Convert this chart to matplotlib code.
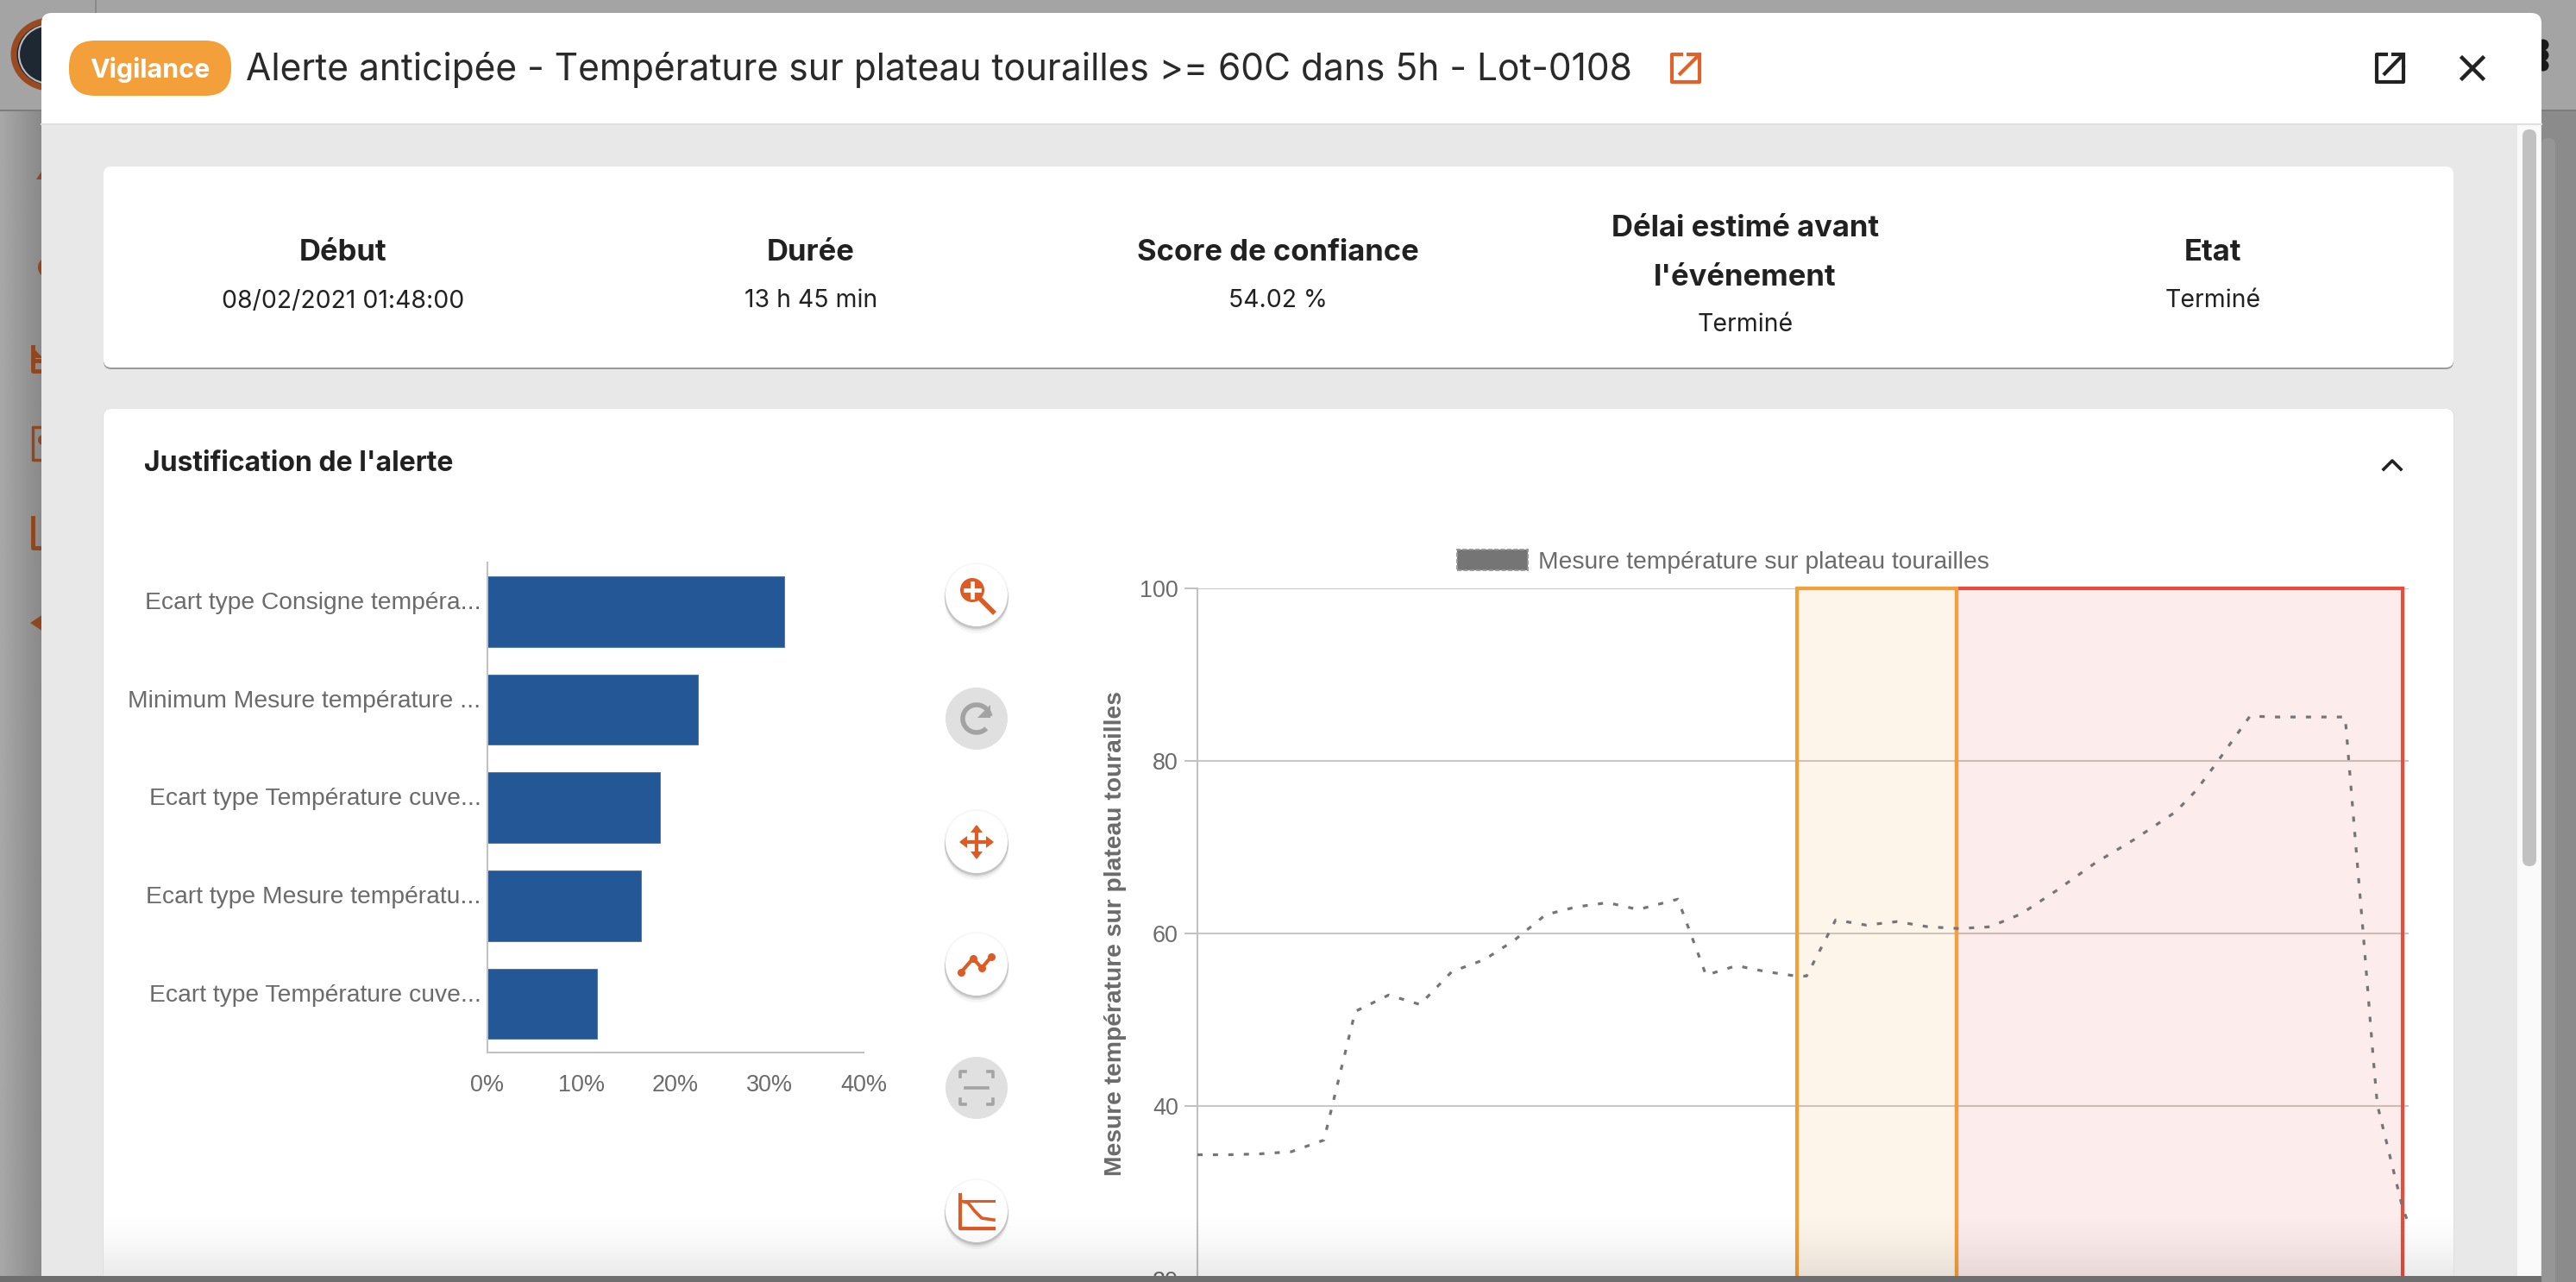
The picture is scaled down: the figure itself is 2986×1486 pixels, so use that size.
import numpy as np
import matplotlib
matplotlib.use("Agg")
import matplotlib.pyplot as plt
from matplotlib.patches import FancyBboxPatch, Circle, Rectangle, Polygon, Ellipse, Patch, Arc
from matplotlib.transforms import Affine2D

# ---------- data ----------
bar_labels = ["Ecart type Consigne tempéra...", "Minimum Mesure température ...",
              "Ecart type Température cuve...", "Ecart type Mesure températu...",
              "Ecart type Température cuve..."]
bar_values = [31.6, 22.4, 18.4, 16.4, 11.7]
bar_ticks = [0, 10, 20, 30, 40]

hours = [-13.60, -12.90, -12.19, -11.47, -10.73, -10.02, -9.26, -8.55, -7.83, -7.09,
         -6.42, -5.70, -5.01, -4.29, -3.60, -2.70, -2.06, -1.37, -0.69, -0.02,
         0.22, 0.88, 1.57, 2.27, 2.98, 3.68, 4.38, 5.09, 5.89, 6.77,
         7.65, 8.59, 9.06, 9.51, 10.28, 10.90, 11.69, 12.44, 12.68, 12.85,
         13.08, 13.17, 13.74, 13.88]
temperature = [34.4, 34.4, 34.5, 34.75, 36.1, 51.0, 52.9, 51.8, 55.6, 57.0,
               59.2, 62.2, 63.1, 63.6, 62.8, 64.0, 55.2, 56.3, 55.6, 55.1,
               55.1, 61.6, 61.0, 61.4, 60.8, 60.6, 60.8, 62.3, 65.0, 68.2,
               70.9, 74.1, 76.6, 79.7, 85.2, 85.1, 85.1, 85.1, 70.3, 60.0,
               45.4, 40.2, 28.3, 26.4]
zone_vigilance = (0.0, 3.62)
zone_alert = (3.62, 13.75)
y_ticks = [20, 40, 60, 80, 100]
legend_label = "Mesure température sur plateau tourailles"
title = "Alerte anticipée - Température sur plateau tourailles >= 60C dans 5h - Lot-0108"
info_heads = ["Début", "Durée", "Score de confiance", "Délai estimé avant\nl'événement", "Etat"]
info_values = ["08/02/2021 01:48:00", "13 h 45 min", "54.02 %", "Terminé", "Terminé"]

# ---------- layout ----------
W, H = 2986, 1486
plt.rcParams["lines.scale_dashes"] = False
fig = plt.figure(figsize=(W / 100, H / 100), dpi=100, facecolor="#a3a3a3")
PT = 0.72
UI = "Inter"
CH = "Liberation Sans"
HEAD = 34.6 * PT
VAL = 28.4 * PT


def px_axes(x0, y0, x1, y1, **kw):
    return fig.add_axes([x0 / W, 1 - y1 / H, (x1 - x0) / W, (y1 - y0) / H], **kw)


bg = px_axes(0, 0, W, H, zorder=0)
bg.set_xlim(0, W); bg.set_ylim(H, 0); bg.axis("off")


def rrect(ax, x0, y0, x1, y1, r, fc, z=1, ec="none"):
    p = FancyBboxPatch((x0 + r, y0 + r), x1 - x0 - 2 * r, y1 - y0 - 2 * r,
                       boxstyle=f"round,pad={r},rounding_size={r}", fc=fc, ec=ec, lw=0, zorder=z)
    ax.add_patch(p)
    return p


# page behind modal
grad = np.linspace(0.66, 0.54, 64).reshape(1, -1)
bg.imshow(grad, extent=(0, 48, H, 128), cmap="gray", vmin=0, vmax=1, aspect="auto", zorder=0)
bg.add_patch(Rectangle((0, 0), W, 128, fc="#a4a4a4", ec="none", zorder=0))
bg.add_patch(Rectangle((2946, 128), 40, H, fc="#8b8b8b", ec="none", zorder=0))
rrect(bg, 2946, 160, 2962, H + 20, 8, "#969696", z=0.5)
bg.plot([0, W], [128, 128], color="#7c7c7c", lw=1.4, zorder=0.6)
bg.plot([111, 111], [0, 128], color="#8a8a8a", lw=1.4, zorder=0.6)
bg.add_patch(Ellipse((58, 63), 84, 78, fc="#1e2833", ec="#9a4a1e", lw=5, zorder=0.7))
bg.add_patch(Ellipse((58, 63), 72, 68, fc="none", ec="#b9bdc0", lw=1.5, zorder=0.7))
BR = "#8f4720"
bg.add_patch(Polygon([(42, 208), (50, 196), (50, 208)], fc=BR, zorder=0.7))
bg.add_patch(Circle((56, 310), 12, fc=BR, zorder=0.7))
bg.plot([38, 38, 50], [402, 430, 430], color=BR, lw=3.5, zorder=0.7)
bg.plot([38, 50], [418, 418], color=BR, lw=3.5, zorder=0.7)
bg.add_patch(Polygon([(37, 402), (50, 415), (37, 415)], fc=BR, zorder=0.7))
bg.plot([46, 38, 38, 46], [495, 495, 533, 533], color=BR, lw=2.5, zorder=0.7)
bg.add_patch(Circle((50, 510), 6, fc=BR, zorder=0.7))
bg.plot([38, 38, 50], [600, 635, 635], color=BR, lw=3.5, zorder=0.7)
bg.add_patch(Polygon([(35, 722), (50, 712), (50, 732)], fc=BR, zorder=0.7))
for yy in (52, 64, 76):
    bg.add_patch(Circle((2948, yy), 6.5, fc="#1a1a1a", zorder=0.7))

# modal
rrect(bg, 48, 15, 2946, 1600, 12, "#ffffff", z=1)
bg.add_patch(Rectangle((48, 143), 2898, 1400, fc="#e8e8e8", ec="none", zorder=1.1))
bg.plot([48, 2946], [143.5, 143.5], color="#e0e0e0", lw=1.5, zorder=1.2)
bg.add_patch(Rectangle((2918, 145), 27, 1400, fc="#fafafa", ec="none", zorder=1.3))
rrect(bg, 2924, 150, 2940, 1004, 8, "#c1c1c1", z=1.4)

# cards
rrect(bg, 120, 196, 2844, 428, 9, "#9a9a9a", z=1.5)
rrect(bg, 120, 193, 2844, 426, 9, "#ffffff", z=1.6)
rrect(bg, 119, 474, 2845, 1600, 9, "#dedede", z=1.5)
rrect(bg, 120, 474, 2844, 1600, 9, "#ffffff", z=1.6)

# header
rrect(bg, 80, 47, 268, 111, 30, "#f4a03a", z=2)
bg.text(174, 81, "Vigilance", color="white", fontsize=30.5 * PT, fontweight="bold", family=UI,
        ha="center", va="center", zorder=3)
bg.text(285, 81, title, color="#2a2a2a", fontsize=42.5 * PT, family=UI, ha="left", va="center", zorder=3)


def open_icon(x0, y0, x1, y1, c):
    m = 0.42 * (x1 - x0)
    bg.plot([x0 + m, x0, x0, x1, x1], [y0, y0, y1, y1, y0 + m], color=c, lw=3, zorder=3,
            solid_capstyle="butt", solid_joinstyle="round")
    bg.plot([x0 + 0.3 * (x1 - x0), x1 - 1], [y1 - 0.3 * (y1 - y0), y0 + 1], color=c, lw=3, zorder=3)
    bg.plot([x0 + 0.6 * (x1 - x0), x1, x1], [y0, y0, y0 + 0.4 * (y1 - y0)], color=c, lw=3, zorder=3,
            solid_joinstyle="miter")


open_icon(1938, 63, 1970, 95, "#e0622a")
open_icon(2755, 63, 2786, 95, "#222222")
bg.plot([2854, 2878], [67, 91], color="#222222", lw=3.2, zorder=3)
bg.plot([2854, 2878], [91, 67], color="#222222", lw=3.2, zorder=3)

# info card
info_x = [398, 940, 1481, 2023, 2565]
for xc, head, val in zip(info_x, info_heads, info_values):
    if "\n" in head:
        l1, l2 = head.split("\n")
        bg.text(xc, 265, l1, fontsize=HEAD, fontweight="bold", family=UI, color="#212121",
                ha="center", va="center", zorder=3)
        bg.text(xc, 322, l2, fontsize=HEAD, fontweight="bold", family=UI, color="#212121",
                ha="center", va="center", zorder=3)
        bg.text(xc, 376, val, fontsize=VAL, family=UI, color="#212121", ha="center", va="center", zorder=3)
    else:
        bg.text(xc, 293, head, fontsize=HEAD, fontweight="bold", family=UI, color="#212121",
                ha="center", va="center", zorder=3)
        bg.text(xc, 349, val, fontsize=VAL, family=UI, color="#212121", ha="center", va="center", zorder=3)

bg.text(167, 537, "Justification de l'alerte", fontsize=32 * PT, fontweight="bold", family=UI,
        color="#212121", ha="left", va="center", zorder=3)
bg.plot([2763, 2773, 2783], [544, 534, 544], color="#222222", lw=2.6, zorder=3)

# toolbar buttons
OR = "#dd5b25"
GR = "#a3a3a3"
btn_x = 1132
btn_y = [690, 833, 976, 1118, 1261, 1404]
btn_on = [True, False, True, True, False, True]
for yy, on in zip(btn_y, btn_on):
    if on:
        for dy, r, a in ((7, 37, 0.04), (4, 37, 0.07), (2, 37, 0.1), (0, 38, 0.03)):
            bg.add_patch(Circle((btn_x, yy + dy), r, fc="black", alpha=a, ec="none", zorder=2.2))
        bg.add_patch(Circle((btn_x, yy), 36, fc="white", ec="none", zorder=2.4))
    else:
        bg.add_patch(Circle((btn_x, yy), 36, fc="#e0e0e0", ec="none", zorder=2.4))
# zoom
yy = btn_y[0]
bg.add_patch(Circle((btn_x - 5, yy - 6), 14, fc=OR, zorder=3))
bg.plot([btn_x + 3, btn_x + 19], [yy + 3, yy + 19], color=OR, lw=4, zorder=3)
bg.plot([btn_x - 13, btn_x + 3], [yy - 6, yy - 6], color="white", lw=3.4, zorder=3.1)
bg.plot([btn_x - 5, btn_x - 5], [yy - 14, yy + 2], color="white", lw=3.4, zorder=3.1)
# reset
yy = btn_y[1]
bg.add_patch(Arc((btn_x, yy), 32, 32, theta1=-315, theta2=-10, color=GR, lw=4, zorder=3))
bg.add_patch(Polygon([(btn_x + 16, yy - 16), (btn_x + 16, yy - 1), (btn_x + 1, yy - 1)], fc=GR, zorder=3))
# pan
yy = btn_y[2]
bg.plot([btn_x - 16, btn_x + 16], [yy, yy], color=OR, lw=3, zorder=3)
bg.plot([btn_x, btn_x], [yy - 16, yy + 16], color=OR, lw=3, zorder=3)
for sx, sy in ((1, 0), (-1, 0), (0, 1), (0, -1)):
    tip = (btn_x + 20 * sx, yy + 20 * sy)
    a = (btn_x + 11 * sx + 7 * sy, yy + 11 * sy + 7 * sx)
    b = (btn_x + 11 * sx - 7 * sy, yy + 11 * sy - 7 * sx)
    bg.add_patch(Polygon([tip, a, b], fc=OR, zorder=3))
# line
yy = btn_y[3]
bg.plot([btn_x - 18, btn_x - 4, btn_x + 6, btn_x + 17], [yy + 9, yy - 7, yy + 4, yy - 9],
        color=OR, lw=3, marker="o", ms=5.5, zorder=3)
# fit
yy = btn_y[4]
for sx in (-1, 1):
    bg.plot([btn_x + sx * 13, btn_x + sx * 19, btn_x + sx * 19], [yy - 19, yy - 19, yy - 13], color=GR, lw=2.6, zorder=3)
    bg.plot([btn_x + sx * 13, btn_x + sx * 19, btn_x + sx * 19], [yy + 19, yy + 19, yy + 13], color=GR, lw=2.6, zorder=3)
bg.plot([btn_x - 13, btn_x + 13], [yy, yy], color=GR, lw=2.6, zorder=3)
# scale
yy = btn_y[5]
bg.plot([btn_x - 19, btn_x - 19, btn_x + 20], [yy - 19, yy + 20, yy + 20], color=OR, lw=3, zorder=3)
bg.plot([btn_x - 19, btn_x + 20], [yy - 12, yy - 12], color=OR, lw=2.2, zorder=3)
bg.plot(btn_x + np.array([-19, -10, -2, 6, 20]), yy + np.array([-12, -10, 0, 8, 10]), color=OR, lw=2.6, zorder=3)

bg.set_xlim(0, W); bg.set_ylim(H, 0)

# ---------- bar chart ----------
AXC = "#c2c2c2"
TXT = "#6b6b6b"
CAT = 28.3 * PT
ax = px_axes(564.5, 652, 1001, 1220.4, zorder=2)
ax.patch.set_alpha(0)
ypos = np.arange(len(bar_values))
ax.barh(ypos, bar_values, height=0.72, color="#235795", edgecolor="#4a78ae", linewidth=0.7)
ax.set_xlim(0, 40)
ax.set_ylim(len(bar_values) - 0.5, -0.5)
ax.set_yticks(ypos)
ax.set_yticklabels(bar_labels, fontsize=CAT, family=CH, color=TXT, va="center")
ax.set_xticks(bar_ticks)
ax.set_xticklabels([f"{t}%" for t in bar_ticks], fontsize=27 * PT, family=CH, color=TXT)
ax.tick_params(axis="both", length=0)
ax.tick_params(axis="y", pad=5)
ax.tick_params(axis="x", pad=18)
for lab in ax.get_yticklabels():
    lab.set_transform(lab.get_transform() + Affine2D().translate(0, 10))
for s in ("top", "right"):
    ax.spines[s].set_visible(False)
for s in ("left", "bottom"):
    ax.spines[s].set_color(AXC)
    ax.spines[s].set_linewidth(1.5)

# ---------- line chart ----------
lx = px_axes(1388, 682, 2792, 1482.6, zorder=2)
lx.patch.set_alpha(0)
lx.set_xlim(-13.60, 13.88)
lx.set_ylim(20, 100)
lx.axvspan(*zone_alert, facecolor="#e74c3c", alpha=0.1, edgecolor="none", zorder=1)
lx.axvspan(*zone_vigilance, facecolor="#f4a03a", alpha=0.1, edgecolor="none", zorder=1)
lx.axvspan(*zone_alert, facecolor="none", edgecolor="#e74c3c", linewidth=3, clip_on=False, zorder=1.5)
lx.axvspan(*zone_vigilance, facecolor="none", edgecolor="#f4a03a", linewidth=3, clip_on=False, zorder=1.6)
lx.plot(hours, temperature, color="#757575", lw=2.3, linestyle=(0, (4.3, 8.6)), zorder=3, clip_on=False)
lx.set_yticks(y_ticks)
lx.set_yticklabels([str(t) for t in y_ticks], fontsize=27 * PT, family=CH, color=TXT)
lx.set_xticks([])
lx.grid(axis="y", color="#c8c8c8", linewidth=1.5, zorder=0)
lx.set_axisbelow(True)
lx.tick_params(axis="y", length=11, width=1.5, color=AXC, pad=5)
for s in ("top", "right", "bottom"):
    lx.spines[s].set_visible(False)
lx.spines["left"].set_color(AXC)
lx.spines["left"].set_linewidth(1.5)
lx.set_ylabel(legend_label, fontsize=CAT, fontweight="bold", family=CH, color=TXT)
lx.yaxis.set_label_coords((1306 - 1388) / 1404, 0.5)
lx.legend(handles=[Patch(facecolor="#757575", edgecolor="#9a9a9a", linestyle="--", linewidth=1.4, label=legend_label)],
          loc="center left", bbox_to_anchor=(1689 / W, 1 - 651 / H), bbox_transform=fig.transFigure,
          frameon=False, borderpad=0, borderaxespad=0, handlelength=82 / 28.3, handleheight=0.95,
          handletextpad=12 / 28.3, prop={"family": CH, "size": CAT}, labelcolor=TXT)

# ---------- overlay: bottom fade and page strip ----------
top = px_axes(0, 0, W, H, zorder=5)
top.patch.set_alpha(0)
top.axis("off")
rgba = np.zeros((80, 1, 4))
rgba[..., 3] = (np.linspace(0, 1, 80) ** 1.5 * 0.085).reshape(-1, 1)
top.imshow(rgba, extent=(120, 2844, 1479, 1400), aspect="auto", zorder=1)
top.add_patch(Rectangle((0, 1479), 2946, 10, fc="#6e6e6e", ec="none", zorder=2))
top.set_xlim(0, W); top.set_ylim(H, 0)

fig.savefig("out.png", dpi=100, facecolor=fig.get_facecolor())
